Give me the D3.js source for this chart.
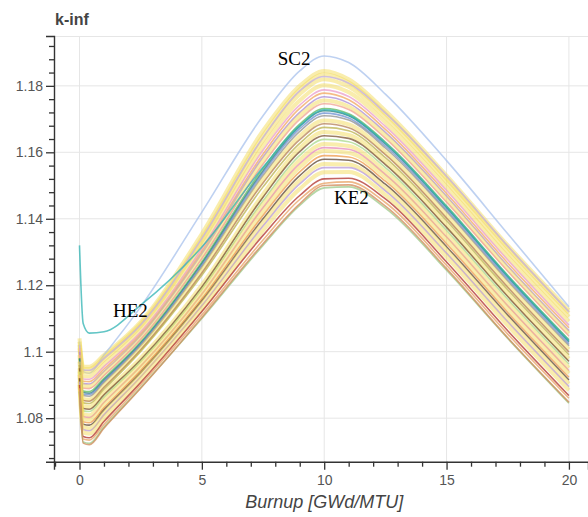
<!DOCTYPE html>
<html>
<head>
<meta charset="utf-8">
<script src="https://cdn.jsdelivr.net/npm/d3@7.9.0/dist/d3.min.js"></script>
<style>
  body { margin: 0; background: #fff; }
  svg { display: block; }
  .tick text { font-family: "Liberation Sans", Arial, sans-serif; font-size: 14px; fill: #555; }
</style>
</head>
<body>
<svg id="chart" width="588" height="517"></svg>
<script>
// burnup points (GWd/MTU) where each case is sampled
const burnup = [0, 0.15, 0.4, 1, 2.5, 5, 7.5, 9, 10, 11, 12.5, 15, 17.5, 20];

const cases = ['c01','SC2','c03','c04','c05','c06','c07','c08','c09','c10','c11','c12','c13','c14',
  'c15','c16','c17','c18','c19','c20','c21','c22','c23','c24','c25','c26','c27','c28','c29','c30',
  'c31','KE2','c33','HE2'];

// k-inf per case
const kinf = [
  [1.104, 1.0955, 1.0955, 1.0990, 1.1090, 1.1355, 1.1665, 1.1800, 1.1845, 1.1820, 1.1725, 1.1530, 1.1320, 1.1125],
  [1.103, 1.0940, 1.0935, 1.0990, 1.1135, 1.1420, 1.1710, 1.1845, 1.1890, 1.1870, 1.1775, 1.1575, 1.1355, 1.1135],
  [1.103, 1.0948, 1.0948, 1.0983, 1.1084, 1.1342, 1.1650, 1.1789, 1.1834, 1.1810, 1.1716, 1.1521, 1.1312, 1.1117],
  [1.102, 1.0940, 1.0939, 1.0975, 1.1077, 1.1332, 1.1636, 1.1775, 1.1820, 1.1797, 1.1705, 1.1510, 1.1300, 1.1105],
  [1.102, 1.0945, 1.0944, 1.0980, 1.1081, 1.1341, 1.1645, 1.1785, 1.1828, 1.1808, 1.1718, 1.1528, 1.1318, 1.1120],
  [1.101, 1.0927, 1.0926, 1.0963, 1.1066, 1.1319, 1.1619, 1.1756, 1.1802, 1.1781, 1.1690, 1.1496, 1.1286, 1.1091],
  [1.101, 1.0918, 1.0917, 1.0955, 1.1059, 1.1310, 1.1606, 1.1742, 1.1788, 1.1768, 1.1678, 1.1485, 1.1276, 1.1080],
  [1.100, 1.0911, 1.0910, 1.0948, 1.1053, 1.1302, 1.1595, 1.1732, 1.1778, 1.1758, 1.1669, 1.1476, 1.1267, 1.1072],
  [1.100, 1.0904, 1.0903, 1.0941, 1.1048, 1.1295, 1.1586, 1.1720, 1.1767, 1.1748, 1.1660, 1.1468, 1.1258, 1.1063],
  [1.099, 1.0897, 1.0896, 1.0935, 1.1042, 1.1287, 1.1575, 1.1710, 1.1756, 1.1738, 1.1651, 1.1459, 1.1250, 1.1055],
  [1.099, 1.0890, 1.0889, 1.0928, 1.1037, 1.1280, 1.1564, 1.1699, 1.1746, 1.1729, 1.1642, 1.1450, 1.1242, 1.1047],
  [1.098, 1.0882, 1.0880, 1.0920, 1.1029, 1.1270, 1.1552, 1.1685, 1.1732, 1.1716, 1.1631, 1.1439, 1.1230, 1.1036],
  [1.098, 1.0877, 1.0875, 1.0915, 1.1025, 1.1265, 1.1544, 1.1678, 1.1725, 1.1710, 1.1625, 1.1433, 1.1225, 1.1030],
  [1.097, 1.0872, 1.0871, 1.0911, 1.1022, 1.1260, 1.1538, 1.1671, 1.1718, 1.1703, 1.1619, 1.1427, 1.1219, 1.1024],
  [1.097, 1.0868, 1.0866, 1.0907, 1.1018, 1.1255, 1.1530, 1.1663, 1.1710, 1.1697, 1.1613, 1.1422, 1.1213, 1.1018],
  [1.097, 1.0858, 1.0856, 1.0898, 1.1010, 1.1245, 1.1518, 1.1649, 1.1696, 1.1684, 1.1601, 1.1410, 1.1202, 1.1007],
  [1.096, 1.0853, 1.0851, 1.0893, 1.1006, 1.1237, 1.1508, 1.1638, 1.1686, 1.1674, 1.1593, 1.1402, 1.1194, 1.0999],
  [1.096, 1.0846, 1.0844, 1.0887, 1.1001, 1.1230, 1.1496, 1.1627, 1.1675, 1.1665, 1.1584, 1.1394, 1.1186, 1.0991],
  [1.095, 1.0836, 1.0834, 1.0876, 1.0981, 1.1201, 1.1474, 1.1613, 1.1661, 1.1652, 1.1572, 1.1382, 1.1174, 1.0979],
  [1.095, 1.0829, 1.0827, 1.0870, 1.0976, 1.1195, 1.1465, 1.1602, 1.1650, 1.1642, 1.1563, 1.1374, 1.1166, 1.0971],
  [1.094, 1.0822, 1.0820, 1.0863, 1.0970, 1.1188, 1.1454, 1.1591, 1.1639, 1.1632, 1.1554, 1.1365, 1.1158, 1.0963],
  [1.094, 1.0812, 1.0809, 1.0854, 1.0962, 1.1180, 1.1442, 1.1577, 1.1625, 1.1619, 1.1542, 1.1353, 1.1146, 1.0951],
  [1.093, 1.0805, 1.0802, 1.0847, 1.0956, 1.1173, 1.1433, 1.1566, 1.1614, 1.1609, 1.1533, 1.1345, 1.1138, 1.0943],
  [1.093, 1.0798, 1.0795, 1.0840, 1.0951, 1.1167, 1.1422, 1.1555, 1.1604, 1.1599, 1.1525, 1.1337, 1.1130, 1.0935],
  [1.092, 1.0789, 1.0786, 1.0831, 1.0943, 1.1159, 1.1410, 1.1541, 1.1590, 1.1586, 1.1513, 1.1325, 1.1118, 1.0923],
  [1.092, 1.0782, 1.0779, 1.0825, 1.0937, 1.1153, 1.1400, 1.1530, 1.1579, 1.1576, 1.1504, 1.1316, 1.1110, 1.0915],
  [1.091, 1.0773, 1.0769, 1.0816, 1.0930, 1.1144, 1.1388, 1.1516, 1.1565, 1.1563, 1.1493, 1.1305, 1.1099, 1.0904],
  [1.091, 1.0766, 1.0762, 1.0810, 1.0924, 1.1138, 1.1378, 1.1505, 1.1554, 1.1554, 1.1484, 1.1296, 1.1090, 1.0895],
  [1.090, 1.0757, 1.0753, 1.0801, 1.0917, 1.1129, 1.1365, 1.1490, 1.1540, 1.1541, 1.1472, 1.1285, 1.1079, 1.0884],
  [1.090, 1.0745, 1.0741, 1.0790, 1.0907, 1.1121, 1.1350, 1.1470, 1.1520, 1.1522, 1.1460, 1.1270, 1.1063, 1.0868],
  [1.089, 1.0737, 1.0734, 1.0781, 1.0900, 1.1111, 1.1336, 1.1458, 1.1507, 1.1511, 1.1449, 1.1260, 1.1053, 1.0860],
  [1.088, 1.0728, 1.0724, 1.0773, 1.0892, 1.1100, 1.1320, 1.1440, 1.1493, 1.1496, 1.1432, 1.1245, 1.1040, 1.0845],
  [1.088, 1.0725, 1.0720, 1.0770, 1.0890, 1.1103, 1.1325, 1.1445, 1.1500, 1.1502, 1.1438, 1.1250, 1.1042, 1.0848],
  [1.132, 1.1085, 1.1056, 1.1060, 1.1140, 1.1315, 1.1555, 1.1680, 1.1728, 1.1712, 1.1628, 1.1436, 1.1228, 1.1033]
];

const xTicks = [0, 5, 10, 15, 20];
const yTicks = [1.08, 1.10, 1.12, 1.14, 1.16, 1.18];
const yTickLabels = ['1.08', '1.1', '1.12', '1.14', '1.16', '1.18'];

const notes = [
  { text: 'SC2', b: 8.1, k: 1.1863 },
  { text: 'HE2', b: 1.37, k: 1.1105 },
  { text: 'KE2', b: 10.4, k: 1.1445 }
];

// line colours, one per case (yellow ones are drawn thick and pale)
const colors = ['#f3dc5c','#a8c2ec','#f3dc5c','#f3dc5c','#c2aee6','#f3dc5c','#ea9cc9','#f2a65e',
  '#a98bd6','#f3dc5c','#f0a090','#5cb85c','#2a7d78','#6b8fd2','#8f8f8f','#f3dc5c','#b47f55',
  '#b9b24c','#f3dc5c','#7a5232','#a8d88a','#f3dc5c','#e58bb6','#f3dc5c','#ef9a4a','#5e4430',
  '#f3dc5c','#b89ad8','#f3dc5c','#b0302a','#e8a060','#9cc98a','#d08a58','#2fb3b3'];

const svg = d3.select('#chart');

const x = d3.scaleLinear().domain([-1.042, 20.78]).range([54, 588]);
const y = d3.scaleLinear().domain([1.0669, 1.1950]).range([461.7, 36]);

// grid
const grid = svg.append('g').attr('stroke', '#e6e6e6').attr('stroke-width', 1);
grid.selectAll('.gx').data(xTicks).join('line')
  .attr('x1', d => x(d)).attr('x2', d => x(d)).attr('y1', 36).attr('y2', 461.7);
grid.selectAll('.gy').data(yTicks).join('line')
  .attr('x1', 54).attr('x2', 588).attr('y1', d => y(d)).attr('y2', d => y(d));
grid.append('line').attr('x1', 54).attr('x2', 588).attr('y1', 36.5).attr('y2', 36.5);

// curves
const line = d3.line()
  .x((d, i) => x(burnup[i]))
  .y(d => y(d))
  .curve(d3.curveMonotoneX);

const plot = svg.append('g').attr('fill', 'none').attr('stroke-linejoin', 'round');
kinf.forEach((vals, i) => {
  const pale = colors[i] === '#f3dc5c';
  plot.append('path')
    .attr('d', line(vals))
    .attr('stroke', colors[i])
    .attr('stroke-width', pale ? 4 : 1.6)
    .attr('stroke-opacity', pale ? 0.5 : 0.75);
});

// axes
const yAxis = svg.append('g').attr('transform', 'translate(54,0)')
  .call(d3.axisLeft(y).tickValues(yTicks).tickFormat((d, i) => yTickLabels[i]).tickSize(8).tickPadding(3));
const yMinor = svg.append('g').attr('transform', 'translate(54,0)')
  .call(d3.axisLeft(y).tickValues(d3.range(1.068, 1.1941, 0.004).filter(v => !yTicks.some(t => Math.abs(t - v) < 1e-6))).tickFormat('').tickSize(5));
const xAxis = svg.append('g').attr('transform', 'translate(0,461.7)')
  .call(d3.axisBottom(x).tickValues(xTicks).tickSize(8).tickPadding(5));
const xMinor = svg.append('g').attr('transform', 'translate(0,461.7)')
  .call(d3.axisBottom(x).tickValues(d3.range(-1, 21, 1).filter(v => v % 5 !== 0)).tickFormat('').tickSize(5));

[yAxis, yMinor, xAxis, xMinor].forEach(g => {
  g.select('.domain').attr('stroke', '#333').attr('stroke-width', 1.4);
  g.selectAll('.tick line').attr('stroke', '#333').attr('stroke-width', 1.3);
});
yMinor.select('.domain').remove();
xMinor.select('.domain').remove();

// titles
svg.append('text').attr('x', 55).attr('y', 25)
  .attr('font-family', '"Liberation Sans", Arial, sans-serif').attr('font-size', 16)
  .attr('font-weight', 'bold').attr('fill', '#444').text('k-inf');

svg.append('text').attr('x', x(10)).attr('y', 508).attr('text-anchor', 'middle')
  .attr('font-family', '"Liberation Sans", Arial, sans-serif').attr('font-size', 18)
  .attr('font-style', 'italic').attr('fill', '#444').text('Burnup [GWd/MTU]');

// case labels
svg.selectAll('.note').data(notes).join('text')
  .attr('x', d => x(d.b)).attr('y', d => y(d.k))
  .attr('font-family', '"Liberation Serif", "Times New Roman", serif').attr('font-size', 19)
  .attr('fill', '#000').text(d => d.text);
</script>
</body>
</html>
